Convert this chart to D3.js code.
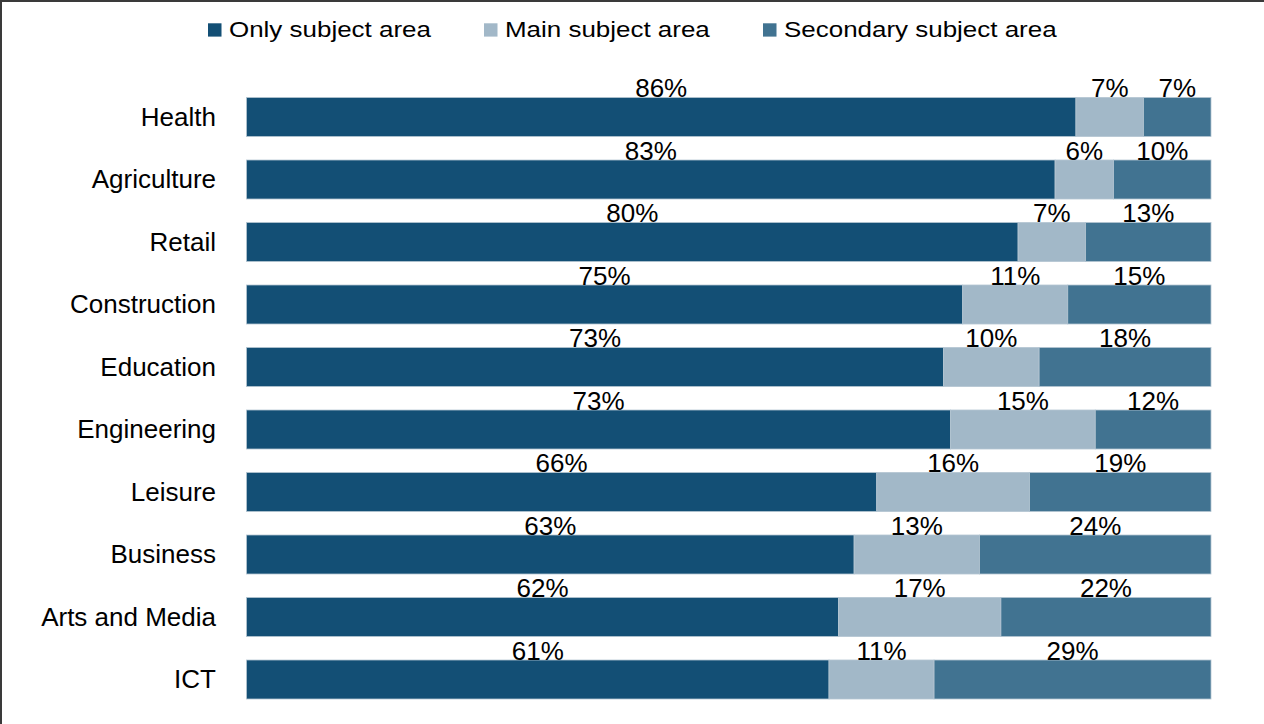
<!DOCTYPE html>
<html>
<head>
<meta charset="utf-8">
<script src="https://cdn.jsdelivr.net/npm/d3@7"></script>
<style>
  html, body { margin: 0; padding: 0; background: #fff; }
  svg { display: block; }
  text { font-family: "Liberation Sans", Arial, sans-serif; fill: #000; }
</style>
</head>
<body>
<svg id="chart" width="1264" height="724"></svg>
<script>
// Share of courses by subject area role, per sector
const categories = ["Health", "Agriculture", "Retail", "Construction", "Education",
                    "Engineering", "Leisure", "Business", "Arts and Media", "ICT"];
const onlySubject = [86, 83, 80, 75, 73, 73, 66, 63, 62, 61];
const mainSubject = [7, 6, 7, 11, 10, 15, 16, 13, 17, 11];
const secondarySubject = [7, 10, 13, 15, 18, 12, 19, 24, 22, 29];

const seriesKeys = ["Only subject area", "Main subject area", "Secondary subject area"];
const seriesValues = [onlySubject, mainSubject, secondarySubject];
const colors = ["#134f75", "#a2b8c8", "#417391"];

const rows = categories.map((c, i) => {
  const r = { category: c };
  seriesKeys.forEach((k, j) => { r[k] = seriesValues[j][i]; });
  return r;
});

const svg = d3.select("#chart");

// frame along the top and left edge
svg.append("path")
  .attr("d", "M1,724 V1 H1264")
  .attr("fill", "none")
  .attr("stroke", "#3a3a3a")
  .attr("stroke-width", 2);

const x = d3.scaleLinear().domain([0, 1]).range([246.5, 1211]);
const y = d3.scaleBand().domain(categories).range([85.75, 710.75]).paddingInner(0.376).paddingOuter(0.188);

const stack = d3.stack().keys(seriesKeys).offset(d3.stackOffsetExpand);
const stacked = stack(rows);

const layers = svg.append("g").selectAll("g")
  .data(stacked)
  .join("g")
  .attr("fill", (d, i) => colors[i]);

layers.selectAll("rect")
  .data(d => d)
  .join("rect")
  .attr("x", d => x(d[0]))
  .attr("y", d => y(d.data.category))
  .attr("width", d => x(d[1]) - x(d[0]))
  .attr("height", y.bandwidth())
  .attr("stroke", "#b4c5d2")
  .attr("stroke-width", 0.8);

// value labels centred over each segment, sitting on the bar top
stacked.forEach((layer, i) => {
  svg.append("g").selectAll("text")
    .data(layer)
    .join("text")
    .attr("x", d => (x(d[0]) + x(d[1])) / 2)
    .attr("y", d => y(d.data.category) - 0.5)
    .attr("text-anchor", "middle")
    .attr("font-size", 26)
    .text(d => d.data[layer.key] + "%");
});

// category axis
const yAxis = d3.axisLeft(y).tickSize(0).tickPadding(0);
const gy = svg.append("g").attr("transform", "translate(216,0)").call(yAxis);
gy.select(".domain").remove();
gy.selectAll("text")
  .attr("font-size", 26)
  .attr("font-family", "'Liberation Sans', Arial, sans-serif")
  .attr("fill", "#000")
  .attr("dy", "0.33em");

// legend
const legendX = [208, 484, 763];
const legend = svg.append("g").selectAll("g")
  .data(seriesKeys)
  .join("g")
  .attr("transform", (d, i) => `translate(${legendX[i]},0)`);
legend.append("rect")
  .attr("x", 0).attr("y", 23.3)
  .attr("width", 13.5).attr("height", 13.3)
  .attr("fill", (d, i) => colors[i]);
legend.append("text")
  .attr("transform", "translate(21,36.5) scale(1.18,1)")
  .attr("font-size", 22)
  .text(d => d);
</script>
</body>
</html>
